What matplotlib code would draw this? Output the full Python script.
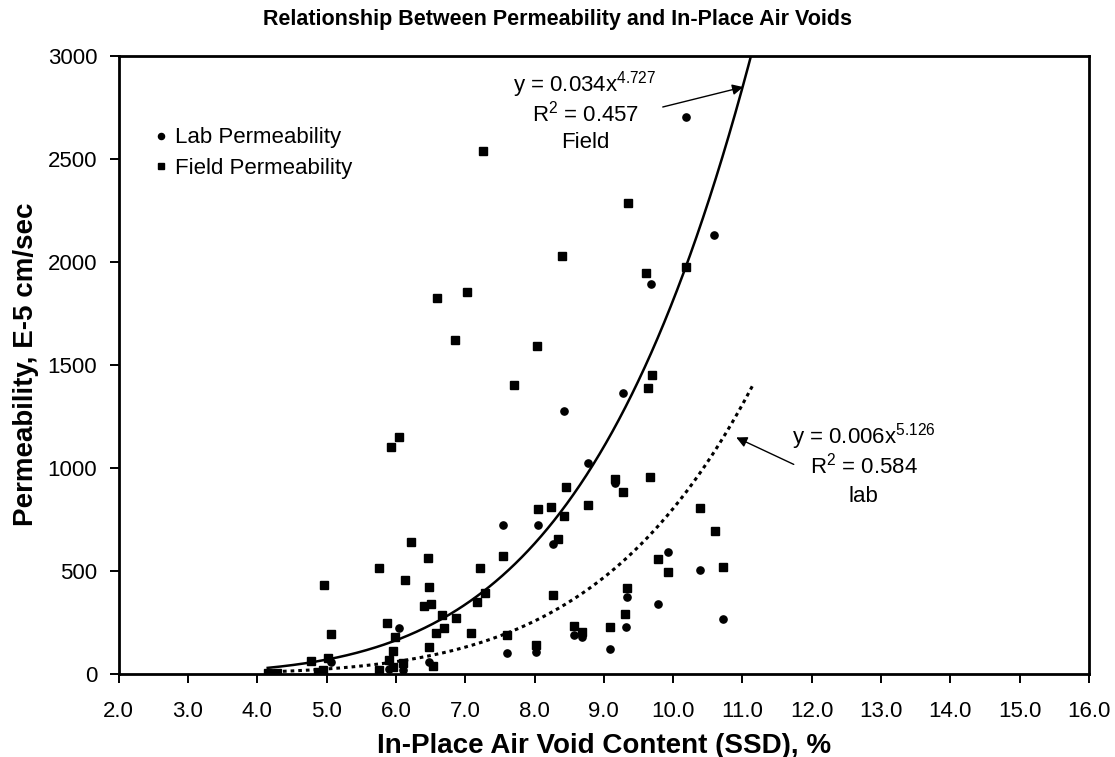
import numpy as np
import matplotlib
matplotlib.use("Agg")
import matplotlib.pyplot as plt

# ---------------- data ----------------
lab_x = [10.18, 10.59, 9.68, 9.28, 8.42, 8.77, 9.16, 7.55, 8.05, 8.26, 9.93, 10.39,
         9.33, 9.78, 10.72, 9.32, 8.57, 8.69, 9.09, 7.60, 8.02, 6.05, 5.06, 6.48,
         5.90, 6.10]
lab_y = [2704, 2129, 1892, 1361, 1273, 1021, 927, 722, 722, 628, 592, 505,
         371, 338, 264, 228, 189, 177, 118, 102, 107, 220, 57, 57,
         23, 18]

field_x = [7.25, 8.39, 6.59, 7.03, 6.85, 8.04, 7.71, 6.05, 5.93, 9.35, 10.18, 9.61,
           9.69, 9.64, 9.16, 9.67, 9.28, 8.45, 8.05, 8.24, 8.77, 8.42, 8.34, 7.55,
           10.39, 10.60, 9.78, 9.93, 10.72, 9.33, 8.26, 9.31, 8.57, 8.69, 9.09, 7.60,
           8.02, 6.22, 6.46, 5.76, 7.21, 6.13, 4.96, 6.48, 7.28, 7.17, 6.40, 6.51,
           6.66, 6.87, 5.87, 6.70, 6.58, 5.06, 5.98, 5.96, 6.48, 4.78, 5.02, 5.90,
           6.53, 6.10, 5.76, 5.96, 4.16, 4.29, 4.87, 4.95, 7.09]
field_y = [2539, 2026, 1824, 1854, 1618, 1589, 1401, 1150, 1100, 2286, 1976, 1946,
           1450, 1385, 944, 956, 883, 908, 799, 811, 819, 765, 652, 570,
           806, 693, 555, 495, 519, 416, 382, 288, 230, 202, 225, 186,
           141, 638, 560, 515, 515, 456, 431, 421, 393, 349, 327, 338,
           283, 270, 245, 222, 196, 191, 177, 112, 131, 63, 75, 66,
           39, 53, 18, 31, 2, 2, 10, 18, 196]

field_coef, field_exp = 0.034, 4.727
lab_coef, lab_exp = 0.006, 5.126
field_range = (4.15, 11.13)
lab_range = (4.15, 11.15)

x_ticks = [2.0, 3.0, 4.0, 5.0, 6.0, 7.0, 8.0, 9.0, 10.0, 11.0, 12.0, 13.0, 14.0, 15.0, 16.0]
y_ticks = [0, 500, 1000, 1500, 2000, 2500, 3000]

title = "Relationship Between Permeability and In-Place Air Voids"
x_label = "In-Place Air Void Content (SSD), %"
y_label = "Permeability, E-5 cm/sec"

# ---------------- style ----------------
FONT = "Liberation Sans"
plt.rcParams["font.family"] = [FONT, "DejaVu Sans"]
plt.rcParams["mathtext.fontset"] = "custom"
plt.rcParams["mathtext.rm"] = FONT
plt.rcParams["mathtext.it"] = FONT

W, H = 1115, 757
fig = plt.figure(figsize=(W / 100, H / 100), dpi=100)
left_px, right_px, top_px, bot_px = 118.7, 1089.0, 55.7, 673.7
ax = fig.add_axes([left_px / W, 1 - bot_px / H, (right_px - left_px) / W, (bot_px - top_px) / H])

ax.set_xlim(2.0, 16.0)
ax.set_ylim(0, 3000)
ax.set_xticks(x_ticks)
ax.set_xticklabels([f"{t:.1f}" for t in x_ticks])
ax.set_yticks(y_ticks)
ax.set_yticklabels([str(t) for t in y_ticks])
ax.tick_params(axis="both", direction="out", length=6.5, width=1.4, labelsize=16, colors="black")
ax.tick_params(axis="x", pad=13)
ax.tick_params(axis="y", pad=9)
for s in ax.spines.values():
    s.set_linewidth(2.0)
    s.set_color("black")

# data
ax.plot(lab_x, lab_y, linestyle="none", marker="o", markersize=5.2, color="black",
        label="Lab Permeability")
ax.plot(field_x, field_y, linestyle="none", marker="s", markersize=5.4, color="black",
        label="Field Permeability")

# trend lines
xf = np.linspace(field_range[0], field_range[1], 300)
ax.plot(xf, field_coef * xf ** field_exp, color="black", lw=1.8)
xl = np.linspace(lab_range[0], lab_range[1], 300)
ax.plot(xl, lab_coef * xl ** lab_exp, color="black", lw=2.2, dashes=(1.2, 1.3))

# legend
leg = ax.legend(loc="upper left", bbox_to_anchor=(0.036, 0.884), frameon=False,
                fontsize=16, handlelength=0.7, handletextpad=0.25, labelspacing=0.42,
                borderpad=0, borderaxespad=0, markerscale=0.85)

# annotations
fs = 16
ax.text(8.73, 2824, r"y = 0.034x$^{4.727}$", ha="center", va="baseline", fontsize=fs)
ax.text(8.73, 2683, r"R$^{2}$ = 0.457", ha="center", va="baseline", fontsize=fs)
ax.text(8.73, 2552, "Field", ha="center", va="baseline", fontsize=fs)
ax.annotate("", xy=(11.01, 2848), xytext=(9.85, 2751),
            arrowprops=dict(arrowstyle="-|>", color="black", lw=1.0, mutation_scale=16,
                            shrinkA=0, shrinkB=0))

ax.text(12.75, 1118, r"y = 0.006x$^{5.126}$", ha="center", va="baseline", fontsize=fs)
ax.text(12.75, 973, r"R$^{2}$ = 0.584", ha="center", va="baseline", fontsize=fs)
ax.text(12.75, 835, "lab", ha="center", va="baseline", fontsize=fs)
ax.annotate("", xy=(10.91, 1147), xytext=(11.74, 1016),
            arrowprops=dict(arrowstyle="-|>", color="black", lw=1.0, mutation_scale=16,
                            shrinkA=0, shrinkB=0))

ax.set_xlabel(x_label, fontsize=20, fontweight="bold", labelpad=8)
ax.set_ylabel(y_label, fontsize=20, fontweight="bold", labelpad=6)
fig.text(0.5, 1 - 20 / H, title, ha="center", va="center", fontsize=15.5,
         fontweight="bold")

fig.savefig("out.png", dpi=100, facecolor="white")
